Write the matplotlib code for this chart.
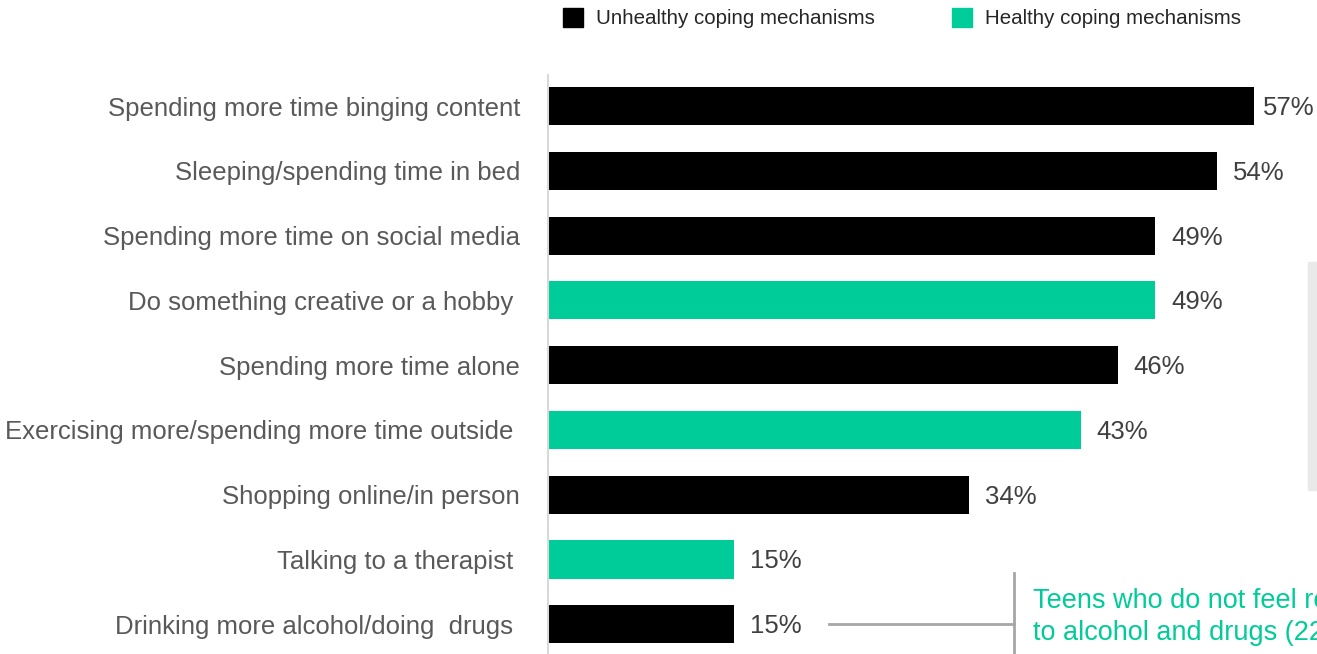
import matplotlib.pyplot as plt
from matplotlib.patches import Rectangle
from matplotlib.lines import Line2D

plt.rcParams['font.family'] = ['Liberation Sans', 'DejaVu Sans']

# data
categories = ["Spending more time binging content",
              "Sleeping/spending time in bed",
              "Spending more time on social media",
              "Do something creative or a hobby ",
              "Spending more time alone",
              "Exercising more/spending more time outside ",
              "Shopping online/in person",
              "Talking to a therapist ",
              "Drinking more alcohol/doing  drugs "]
values = [57, 54, 49, 49, 46, 43, 34, 15, 15]
healthy = [False, False, False, True, False, True, False, True, False]

BLACK = "#000000"
GREEN = "#00CC99"
colors = [GREEN if h else BLACK for h in healthy]

fig = plt.figure(figsize=(13.17, 6.54), dpi=100)
W, H = 1317, 654
ax = fig.add_axes([548 / W, 0, 1 - 548 / W, 1 - 75 / H])

y = list(range(len(categories)))
ax.barh(y, values, height=0.59, color=colors)
xmax = (W - 548) / 12.386
ax.set_xlim(0, xmax)
ax.set_ylim(8.46, -0.48)

for yi, v in zip(y, values):
    # the longest bar leaves less room for its label
    xt = min(v + 1.3, xmax - 4.4)
    ax.text(xt, yi + 0.03, f"{v}%", va="center", ha="left", fontsize=18.5,
            color="#404040", clip_on=False)

ax.set_yticks(y)
ax.set_yticklabels(categories, fontsize=18.5, color="#595959")
ax.tick_params(axis="y", length=0, pad=20)
ax.set_xticks([])
for s in ["top", "right", "bottom"]:
    ax.spines[s].set_visible(False)
ax.spines["left"].set_color("#d9d9d9")
ax.spines["left"].set_linewidth(1.5)

# legend
fig.patches.append(Rectangle((563 / W, 1 - 27 / H), 20 / W, 19 / H,
                             transform=fig.transFigure, color=BLACK))
fig.text(596 / W, 1 - 18 / H, "Unhealthy coping mechanisms", fontsize=14.8,
         color="#262626", va="center", ha="left")
fig.patches.append(Rectangle((952 / W, 1 - 27 / H), 20 / W, 19 / H,
                             transform=fig.transFigure, color=GREEN))
fig.text(985 / W, 1 - 18 / H, "Healthy coping mechanisms", fontsize=14.8,
         color="#262626", va="center", ha="left")

# cut-off panel on the right
fig.patches.append(Rectangle((1308 / W, 1 - 490 / H), 12 / W, 228 / H,
                             transform=fig.transFigure, color="#e9e9e9"))

# annotation for the drugs bar (runs off the right edge, as in the source slide)
fig.lines.append(Line2D([829 / W, 1014 / W], [1 - 624 / H, 1 - 624 / H],
                        transform=fig.transFigure, color="#a6a6a6", lw=2))
fig.lines.append(Line2D([1014 / W, 1014 / W], [1 - 573 / H, 0],
                        transform=fig.transFigure, color="#a6a6a6", lw=2))
fig.text(1033 / W, 1 - 617 / H, "Teens who do not feel relief turn\nto alcohol and drugs (22%)",
         fontsize=19.5, color=GREEN, va="center", ha="left", linespacing=1.3)

fig.savefig("out.png", dpi=100)
